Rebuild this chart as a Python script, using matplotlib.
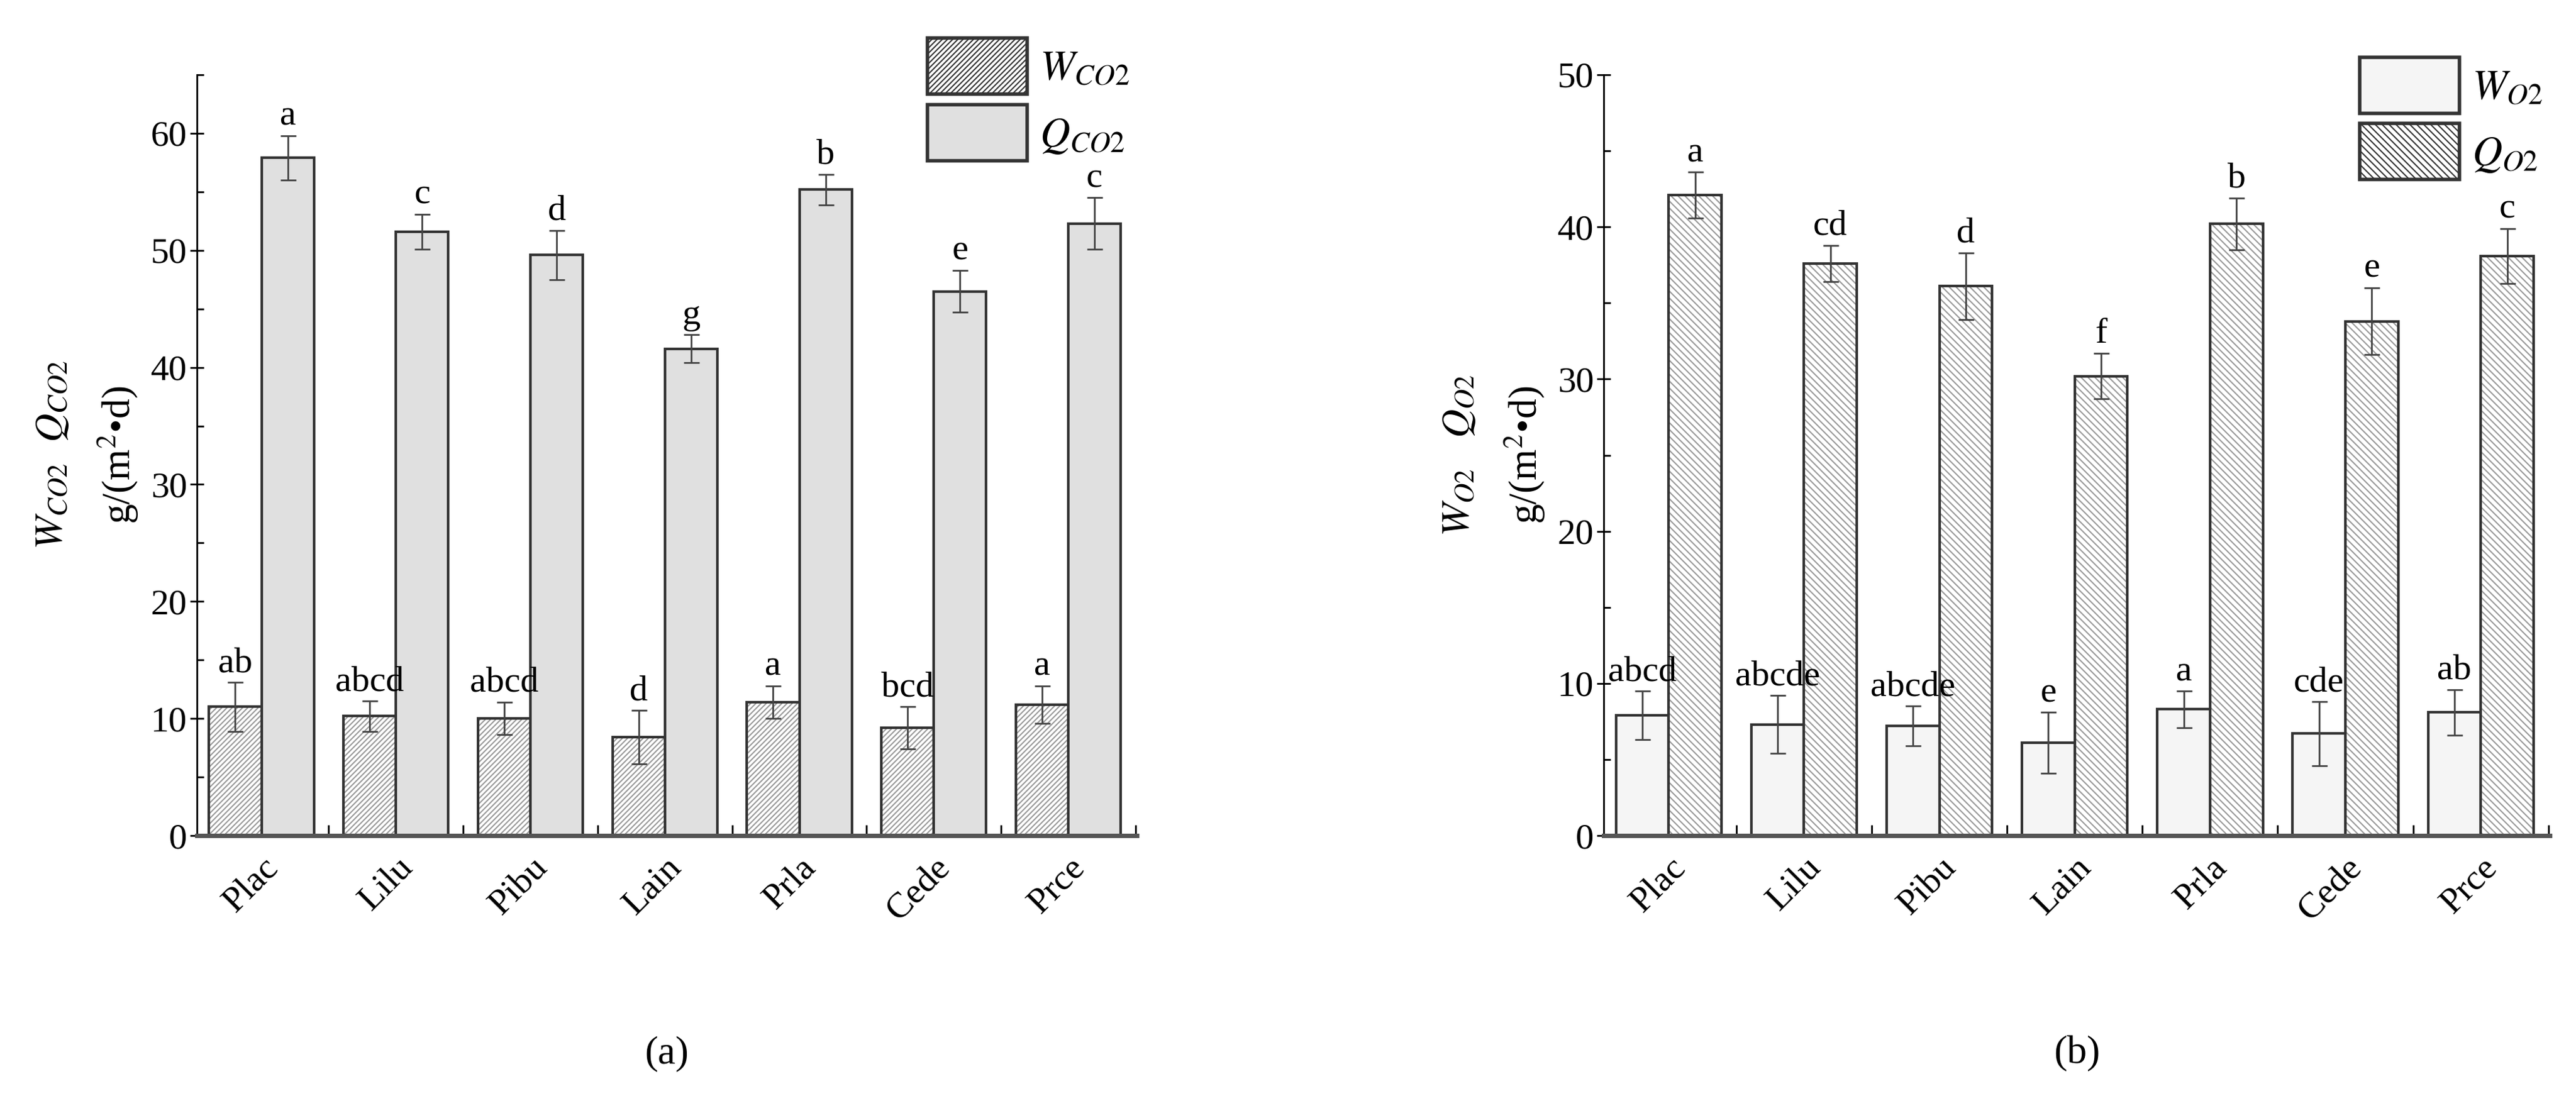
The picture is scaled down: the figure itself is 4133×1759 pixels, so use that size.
import matplotlib
matplotlib.use("Agg")
import matplotlib.pyplot as plt
import numpy as np

species = ["Plac", "Lilu", "Pibu", "Lain", "Prla", "Cede", "Prce"]

w_co2 = [11.0, 10.2, 10.0, 8.4, 11.4, 9.2, 11.2]
w_co2_err = [2.1, 1.3, 1.4, 2.3, 1.4, 1.8, 1.6]
w_co2_sig = ["ab", "abcd", "abcd", "d", "a", "bcd", "a"]
q_co2 = [57.9, 51.6, 49.6, 41.6, 55.2, 46.5, 52.3]
q_co2_err = [1.9, 1.5, 2.1, 1.2, 1.3, 1.8, 2.2]
q_co2_sig = ["a", "c", "d", "g", "b", "e", "c"]

w_o2 = [7.9, 7.3, 7.2, 6.1, 8.3, 6.7, 8.1]
w_o2_err = [1.6, 1.9, 1.3, 2.0, 1.2, 2.1, 1.5]
w_o2_sig = ["abcd", "abcde", "abcde", "e", "a", "cde", "ab"]
q_o2 = [42.1, 37.6, 36.1, 30.2, 40.2, 33.8, 38.1]
q_o2_err = [1.5, 1.2, 2.2, 1.5, 1.7, 2.2, 1.8]
q_o2_sig = ["a", "cd", "d", "f", "b", "e", "c"]

plt.rcParams["font.family"] = ["Liberation Serif", "DejaVu Serif"]
plt.rcParams["mathtext.fontset"] = "stix"
plt.rcParams["hatch.linewidth"] = 1.5
FS = 42
EDGE = "#333333"
HATCH = "#999999"

fig = plt.figure(figsize=(41.33, 17.59), dpi=100)
W, H = 4133, 1759


def panel(rect, w, we, ws, q, qe, qs, ymax, wstyle, qstyle, labels, ylab, cap, leg_y):
    ax = fig.add_axes([rect[0] / W, 1 - rect[3] / H, (rect[2] - rect[0]) / W,
                       (rect[3] - rect[1]) / H])
    x = np.arange(len(species))
    bw = 0.39
    handles = []
    for vals, errs, sig, off, st in [(w, we, ws, -bw / 2, wstyle),
                                     (q, qe, qs, bw / 2, qstyle)]:
        ax.bar(x + off, vals, bw, color=st[0], hatch=st[1], edgecolor=HATCH,
               linewidth=0)
        ax.bar(x + off, vals, bw, fill=False, edgecolor=EDGE, linewidth=3)
        handles.append(plt.Rectangle((0, 0), 1, 1, facecolor=st[0], hatch=st[1],
                                     edgecolor=HATCH, linewidth=0))
        ax.errorbar(x + off, vals, yerr=errs, fmt="none", ecolor="#444444",
                    elinewidth=2, capsize=9, capthick=2)
        for xi, v, e, s in zip(x + off, vals, errs, sig):
            ax.text(xi, v + e + ymax * 0.004, s, ha="center", va="bottom", fontsize=FS)
    ax.set_xlim(-0.48, 6.51)
    ax.set_ylim(0, ymax)
    ax.set_yticks(np.arange(0, min(ymax, 60) + 0.1, 10))
    ax.set_yticks(np.arange(0, ymax + 0.1, 5), minor=True)
    ax.set_xticks(x)
    ax.set_xticklabels(species, rotation=45, ha="right", rotation_mode="anchor")
    ax.set_xticks(x + 0.5, minor=True)
    ax.tick_params(axis="x", which="major", length=0, labelsize=FS, pad=18)
    ax.tick_params(axis="x", which="minor", direction="in", length=12, width=2)
    ax.tick_params(axis="y", which="major", direction="inout", length=16, width=2,
                   labelsize=FS)
    ax.tick_params(axis="y", which="minor", direction="in", length=8, width=2)
    for s in ["top", "right"]:
        ax.spines[s].set_visible(False)
    ax.spines["left"].set_linewidth(2)
    ax.spines["bottom"].set_linewidth(5)
    ax.spines["bottom"].set_color("#555555")
    ax.set_ylabel(ylab, fontsize=FS + 4, labelpad=12, linespacing=1.7)
    leg = ax.legend(handles, labels, loc="upper right", bbox_to_anchor=(1.01, leg_y),
                    frameon=False, fontsize=FS + 6, handlelength=2.4, handleheight=1.7,
                    handletextpad=0.3, labelspacing=0.25, borderaxespad=0)
    for p in leg.get_patches():
        p.set_edgecolor(EDGE)
        p.set_linewidth(4)
    ax.text(0.5, -0.287, cap, transform=ax.transAxes,
            ha="center", va="center", fontsize=FS + 4)
    return ax


panel((316, 120, 1824, 1341), w_co2, w_co2_err, w_co2_sig, q_co2, q_co2_err, q_co2_sig,
      65, ("#ffffff", "////"), ("#e0e0e0", None),
      [r"$W_{CO2}$", r"$Q_{CO2}$"],
      "$W_{CO2}$  $Q_{CO2}$\ng/(m$^2$•d)", "(a)", 1.07)
panel((2573, 120, 4091, 1341), w_o2, w_o2_err, w_o2_sig, q_o2, q_o2_err, q_o2_sig,
      50, ("#f5f5f5", None), ("#ffffff", "\\\\\\"),
      [r"$W_{O2}$", r"$Q_{O2}$"],
      "$W_{O2}$   $Q_{O2}$\ng/(m$^2$•d)", "(b)", 1.045)

fig.savefig("out.png", dpi=100)
